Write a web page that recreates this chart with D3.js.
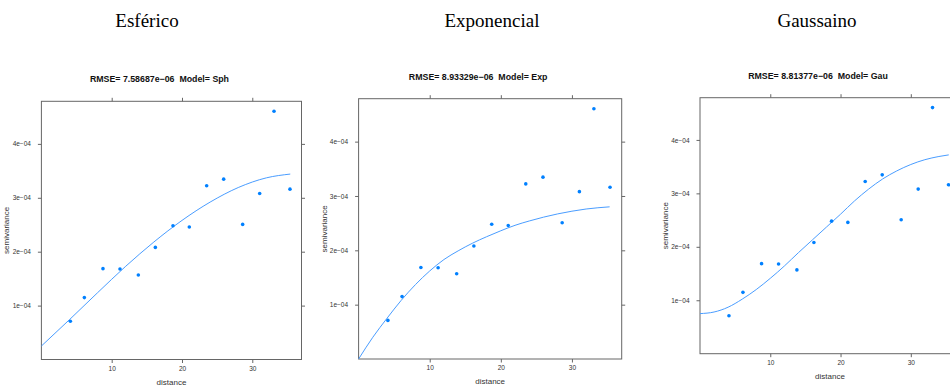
<!DOCTYPE html>
<meta charset="utf-8">
<style>
body { margin: 0; background: #fff; }
.frame { fill: none; stroke: #666; stroke-width: 1; }
.tick line { stroke: #666; }
.tick text { font-family: "Liberation Sans", Arial, sans-serif; font-size: 6.5px; fill: #333; }
.fit { fill: none; stroke: #4a9dff; stroke-width: 1; }
.pt { fill: #0080ff; }
.ptitle { font-family: "Liberation Sans", Arial, sans-serif; font-size: 8.8px; font-weight: bold; fill: #111; white-space: pre; }
.alab { font-family: "Liberation Sans", Arial, sans-serif; font-size: 8px; fill: #333; }
.head { font-family: "Liberation Serif", "Times New Roman", serif; font-size: 19px; fill: #000; }
</style>
<svg width="950" height="385"></svg>
<script src="https://d3js.org/d3.v7.min.js"></script>
<script>

// empirical variogram (same in every panel)
var dist  = [4.12, 6.11, 8.76, 11.18, 13.79, 16.21, 18.72, 21.04, 23.51, 25.93, 28.63, 31.05, 33.09, 35.36];
var gamma = [0.71e-4, 1.148e-4, 1.685e-4, 1.679e-4, 1.568e-4, 2.08e-4, 2.48e-4, 2.457e-4, 3.222e-4, 3.346e-4, 2.506e-4, 3.08e-4, 4.605e-4, 3.16e-4];

// fitted model lines
var sphDist  = [0, 4, 8, 12, 16, 20, 24, 28, 32, 35.4];
var sphGamma = [0.25e-4, 0.74e-4, 1.24e-4, 1.73e-4, 2.18e-4, 2.58e-4, 2.92e-4, 3.19e-4, 3.37e-4, 3.44e-4];

var expDist  = [0, 2, 4, 6, 8, 10, 12, 14, 16, 18, 20, 22, 24, 26, 28, 30, 32, 35.3];
var expGamma = [0, 0.40e-4, 0.75e-4, 1.08e-4, 1.37e-4, 1.62e-4, 1.83e-4, 1.99e-4, 2.13e-4, 2.25e-4, 2.36e-4, 2.46e-4, 2.54e-4, 2.61e-4, 2.67e-4, 2.72e-4, 2.76e-4, 2.80e-4];

var gauDist  = [0, 2, 4, 6, 8, 10, 12, 14, 16, 18, 20, 22, 24, 26, 28, 30, 32, 34, 35.4];
var gauGamma = [0.75e-4, 0.78e-4, 0.87e-4, 1.02e-4, 1.20e-4, 1.41e-4, 1.64e-4, 1.89e-4, 2.13e-4, 2.37e-4, 2.61e-4, 2.86e-4, 3.08e-4, 3.27e-4, 3.42e-4, 3.54e-4, 3.63e-4, 3.69e-4, 3.72e-4];

var headers = ["Esférico", "Exponencial", "Gaussaino"];
var titles  = ["RMSE= 7.58687e\u221206  Model= Sph", "RMSE= 8.93329e\u221206  Model= Exp", "RMSE= 8.81377e\u221206  Model= Gau"];
var xTicks = [10, 20, 30];
var yTicks = [1e-4, 2e-4, 3e-4, 4e-4];
var yTickLabels = ["1e\u221204", "2e\u221204", "3e\u221204", "4e\u221204"];
var xMax = 37, yMax = 4.79e-4;

var svg = d3.select("svg");

// panel boxes (left, right, top, bottom) and header centres
var boxes = [
  {l: 41.4, r: 301.5, t: 101.3, b: 359.5, hx: 147},
  {l: 358.6, r: 621.7, t: 98.7, b: 359, hx: 492},
  {l: 700, r: 960, t: 97.7, b: 353.7, hx: 817}
];
var fits = [[sphDist, sphGamma], [expDist, expGamma], [gauDist, gauGamma]];

boxes.forEach(function(bx, i) {
  var g = svg.append("g");
  var x = d3.scaleLinear().domain([0, xMax]).range([bx.l, bx.r]);
  var y = d3.scaleLinear().domain([0, yMax]).range([bx.b, bx.t]);

  g.append("text").attr("class", "head")
    .attr("x", bx.hx).attr("y", 27).attr("text-anchor", "middle").text(headers[i]);

  g.append("text").attr("class", "ptitle")
    .attr("x", (bx.l + bx.r) / 2 - 12).attr("y", bx.t - 19)
    .attr("text-anchor", "middle").text(titles[i]);

  // axes on all four sides, labels only left/bottom
  g.append("g").attr("transform", "translate(0," + bx.b + ")")
    .call(d3.axisBottom(x).tickValues(xTicks).tickSize(3.5).tickPadding(3).tickFormat(d3.format("d")))
    .select(".domain").remove();
  g.append("g").attr("transform", "translate(0," + bx.t + ")")
    .call(d3.axisTop(x).tickValues(xTicks).tickSize(3.5).tickFormat(""))
    .select(".domain").remove();
  g.append("g").attr("transform", "translate(" + bx.l + ",0)")
    .call(d3.axisLeft(y).tickValues(yTicks).tickSize(3.5).tickPadding(7)
      .tickFormat(function(d, j) { return yTickLabels[j]; }))
    .select(".domain").remove();
  g.append("g").attr("transform", "translate(" + bx.r + ",0)")
    .call(d3.axisRight(y).tickValues(yTicks).tickSize(3.5).tickFormat(""))
    .select(".domain").remove();

  g.append("rect").attr("class", "frame")
    .attr("x", bx.l).attr("y", bx.t)
    .attr("width", bx.r - bx.l).attr("height", bx.b - bx.t);

  g.append("text").attr("class", "alab")
    .attr("x", (bx.l + bx.r) / 2).attr("y", bx.b + 25)
    .attr("text-anchor", "middle").text("distance");
  g.append("text").attr("class", "alab")
    .attr("transform", "translate(" + (bx.l - 32) + "," + ((bx.t + bx.b) / 2) + ") rotate(-90)")
    .attr("text-anchor", "middle").text("semivariance");

  var f = fits[i];
  var line = d3.line()
    .x(function(d, j) { return x(f[0][j]); })
    .y(function(d) { return y(d); })
    .curve(d3.curveMonotoneX);
  g.append("path").attr("class", "fit").attr("d", line(f[1]));

  g.selectAll("circle").data(gamma).enter().append("circle")
    .attr("class", "pt")
    .attr("cx", function(d, j) { return x(dist[j]); })
    .attr("cy", function(d) { return y(d); })
    .attr("r", 1.8);
});

</script>
